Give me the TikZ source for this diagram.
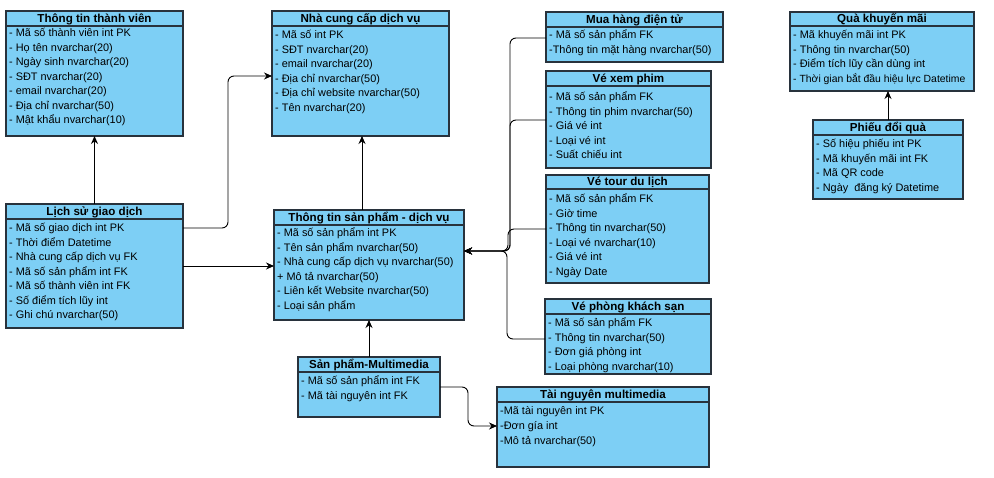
\documentclass[tikz,border=0pt]{standalone}
\usepackage{fontspec}
\setmainfont{Liberation Sans}
\usetikzlibrary{arrows.meta}
\definecolor{boxfill}{RGB}{125,207,245}
\definecolor{boxline}{RGB}{40,50,60}
\tikzset{
  tblbox/.style={draw=boxline, fill=boxfill, line width=1.2pt, inner sep=0pt, outer sep=0pt},
  hdrline/.style={draw=boxline, line width=1.2pt},
  hdrtxt/.style={inner sep=0pt, font=\fontsize{11.6}{13}\selectfont\bfseries, text height=8pt, text depth=0pt},
  rowtxt/.style={inner sep=0pt, anchor=west, font=\fontsize{10.9}{13}\selectfont, text height=8pt, text depth=0pt},
  conn/.style={draw=black, line width=0.9pt, rounded corners=6pt, -{Stealth[length=8pt,width=7pt]}},
}
\newcommand\ertable[9]{%
  \node[tblbox, minimum width={(#4-#2)*1pt}, minimum height={(#5-#3)*1pt}, anchor=north west] (#1) at (#2,#3) {};
  \draw[hdrline] (#2,#6) -- (#4,#6);
  \node[hdrtxt] (#1-t) at ({(#2+#4)/2},{(#3+#6)/2}) {#7};
  \foreach \r [count=\i] in {#9} {\node[rowtxt] (#1-\i) at (#2+3,{#8+(\i-1)*14.5}) {\r};}
}
\begin{document}
\begin{tikzpicture}[x=1pt,y=-1pt]
\useasboundingbox[fill=white] (0,0) rectangle (994,478);

\ertable{tttv}{6}{11}{183}{136}{26}{Thông tin thành viên}{33}{- Mã số thành viên int PK,- Họ tên nvarchar(20),- Ngày sinh nvarchar(20),- SĐT nvarchar(20),- email nvarchar(20),- Địa chỉ nvarchar(50),- Mật khẩu nvarchar(10)}

\ertable{ncc}{272}{11}{449}{136}{26}{Nhà cung cấp dịch vụ}{35}{- Mã số int PK,- SĐT nvarchar(20),- email nvarchar(20),- Địa chỉ nvarchar(50),- Địa chỉ website nvarchar(50),- Tên nvarchar(20)}

\ertable{lsgd}{6}{204}{183}{328}{219}{Lịch sử giao dịch}{228}{- Mã số giao dịch int PK,- Thời điểm Datetime,- Nhà cung cấp dịch vụ FK,- Mã số sản phẩm int FK,- Mã số thành viên int FK,- Số điểm tích lũy int,- Ghi chú nvarchar(50)}

\ertable{ttsp}{274}{210}{464}{320}{225}{Thông tin sản phẩm - dịch vụ}{233}{- Mã số sản phẩm int PK,- Tên sản phẩm nvarchar(50),- Nhà cung cấp dịch vụ nvarchar(50),+ Mô tả nvarchar(50),- Liên kết Website nvarchar(50),- Loại sản phẩm}

\ertable{mh}{546}{12}{723}{62}{27}{Mua hàng điện tử}{35}{- Mã số sản phẩm FK,-Thông tin mặt hàng nvarchar(50)}

\ertable{vxp}{546}{71}{711}{168}{86}{Vé xem phim}{97}{- Mã số sản phẩm FK,- Thông tin phim nvarchar(50),- Giá vé int,- Loại vé int,- Suất chiếu int}

\ertable{vtdl}{546}{175}{709}{283}{189}{Vé tour du lịch}{199}{- Mã số sản phẩm FK,- Giờ time,- Thông tin nvarchar(50),- Loại vé nvarchar(10),- Giá vé int,- Ngày Date}

\ertable{vpks}{545}{299}{711}{374}{314}{Vé phòng khách sạn}{323}{- Mã số sản phẩm FK,- Thông tin nvarchar(50),- Đơn giá phòng int,- Loại phòng nvarchar(10)}

\ertable{qkm}{790}{12}{974}{91}{26}{Quà khuyến mãi}{35}{- Mã khuyến mãi int PK,- Thông tin nvarchar(50),- Điểm tích lũy cần dùng int,{\fontsize{10.4}{13}\selectfont - Thời gian bắt đầu hiệu lực Datetime}}

\ertable{pdq}{813}{120}{963}{199}{135}{Phiếu đổi quà}{144}{- Số hiệu phiếu int PK,- Mã khuyến mãi int FK,- Mã QR code,- Ngày\ \ đăng ký Datetime}

\ertable{spmm}{298}{357}{440}{417}{372}{Sản phẩm-Multimedia}{381}{- Mã số sản phẩm int FK,- Mã tài nguyên int FK}

\ertable{tnmm}{497}{387}{709}{467}{402}{Tài nguyên multimedia}{411}{-Mã tài nguyên int PK,-Đơn gía int,-Mô tả nvarchar(50)}

% connectors
\draw[conn] (lsgd.north) -- (tttv.south);
\draw[conn] (lsgd.east |- 0,228) -- (228,228) -- (228,76) -- (ncc.west |- 0,76);
\draw[conn] (lsgd.east |- 0,266) -- (ttsp.west |- 0,266);
\draw[conn] (ttsp.north -| 362,0) -- (ncc.south -| 362,0);
\draw[conn] (spmm.north) -- (ttsp.south);
\draw[conn] (spmm.east |- 0,387) -- (468,387) -- (468,426) -- (tnmm.west |- 0,426);
\draw[conn] (pdq.north) -- (pdq.north |- qkm.south);

\draw[conn] (mh.west |- 0,38) -- (510,38) -- (510,251) -- (ttsp.east |- 0,251);
\draw[conn] (vxp.west |- 0,120) -- (510,120) -- (510,251) -- (ttsp.east |- 0,251);
\draw[conn] (vtdl.west |- 0,229) -- (508,229) -- (508,251) -- (ttsp.east |- 0,251);
\draw[conn] (vpks.west |- 0,339) -- (507,339) -- (507,251) -- (ttsp.east |- 0,251);
\end{tikzpicture}
\end{document}
